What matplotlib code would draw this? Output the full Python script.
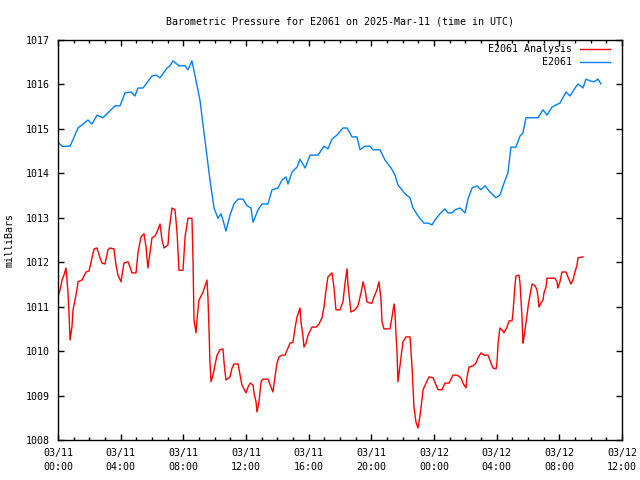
import matplotlib
matplotlib.use("Agg")
import matplotlib.pyplot as plt
from matplotlib.ticker import MultipleLocator

# hours since 2025-03-11 00:00 UTC, pressure in millibars
obs_hours = [0.00, 0.26, 0.77, 1.28, 1.91, 2.17, 2.49, 2.87, 3.19, 3.64, 3.96, 4.28, 4.66,
             4.91, 5.11, 5.43, 6.00, 6.26, 6.51, 6.96, 7.15, 7.34, 7.72, 8.11, 8.30, 8.55,
             8.74, 9.06, 9.38, 9.70, 9.96, 10.21, 10.40, 10.53, 10.72, 10.98, 11.23, 11.49,
             11.81, 12.06, 12.32, 12.45, 12.77, 13.02, 13.40, 13.66, 14.04, 14.30, 14.55,
             14.68, 14.94, 15.26, 15.45, 15.77, 16.09, 16.60, 16.98, 17.23, 17.49, 17.81,
             18.19, 18.45, 18.77, 19.08, 19.28, 19.60, 19.91, 20.11, 20.55, 20.87, 21.26,
             21.51, 21.70, 22.15, 22.47, 22.66, 22.98, 23.36, 23.62, 23.87, 24.06, 24.38,
             24.70, 24.89, 25.15, 25.34, 25.66, 25.98, 26.17, 26.43, 26.74, 27.00, 27.26,
             27.57, 27.96, 28.21, 28.47, 28.72, 28.91, 29.23, 29.49, 29.68, 29.87, 30.13,
             30.64, 30.96, 31.21, 31.53, 31.79, 32.04, 32.43, 32.68, 33.00, 33.19, 33.51,
             33.70, 33.96, 34.21, 34.47, 34.66]
obs_mb = [1014.70, 1014.61, 1014.61, 1015.02, 1015.20, 1015.11, 1015.31, 1015.25, 1015.36,
          1015.52, 1015.52, 1015.81, 1015.83, 1015.74, 1015.92, 1015.92, 1016.19, 1016.21,
          1016.15, 1016.37, 1016.42, 1016.53, 1016.42, 1016.42, 1016.33, 1016.53, 1016.21,
          1015.65, 1014.75, 1013.85, 1013.22, 1012.99, 1013.09, 1012.95, 1012.70, 1013.06,
          1013.31, 1013.42, 1013.42, 1013.27, 1013.22, 1012.90, 1013.18, 1013.31, 1013.31,
          1013.63, 1013.67, 1013.85, 1013.92, 1013.76, 1014.03, 1014.14, 1014.32, 1014.12,
          1014.41, 1014.41, 1014.61, 1014.55, 1014.77, 1014.86, 1015.02, 1015.02, 1014.82,
          1014.82, 1014.53, 1014.61, 1014.61, 1014.53, 1014.53, 1014.30, 1014.12, 1013.96,
          1013.74, 1013.54, 1013.45, 1013.22, 1013.04, 1012.88, 1012.88, 1012.84, 1012.95,
          1013.09, 1013.20, 1013.11, 1013.11, 1013.18, 1013.22, 1013.11, 1013.42, 1013.67,
          1013.72, 1013.63, 1013.72, 1013.58, 1013.45, 1013.51, 1013.78, 1014.01, 1014.59,
          1014.59, 1014.84, 1014.91, 1015.25, 1015.25, 1015.25, 1015.43, 1015.31, 1015.49,
          1015.54, 1015.58, 1015.83, 1015.74, 1015.92, 1016.01, 1015.92, 1016.12, 1016.08,
          1016.06, 1016.12, 1016.01]

ana_hours = [0.00, 0.13, 0.26, 0.38, 0.51, 0.64, 0.70, 0.77, 0.89, 0.96, 1.21, 1.28, 1.53,
             1.79, 1.98, 2.17, 2.30, 2.49, 2.68, 2.81, 3.00, 3.19, 3.32, 3.57, 3.70, 3.83,
             4.02, 4.21, 4.47, 4.60, 4.72, 4.98, 5.11, 5.30, 5.49, 5.62, 5.74, 6.00, 6.19,
             6.38, 6.51, 6.64, 6.77, 7.02, 7.09, 7.28, 7.47, 7.60, 7.72, 7.98, 8.11, 8.30,
             8.55, 8.62, 8.68, 8.81, 8.87, 9.00, 9.26, 9.51, 9.57, 9.64, 9.70, 9.77, 9.89,
             10.02, 10.15, 10.34, 10.53, 10.60, 10.72, 10.98, 11.11, 11.23, 11.49, 11.62,
             11.74, 12.00, 12.13, 12.26, 12.45, 12.51, 12.64, 12.70, 12.83, 12.96, 13.09,
             13.40, 13.60, 13.72, 13.85, 13.98, 14.11, 14.30, 14.49, 14.68, 14.81, 15.00,
             15.13, 15.26, 15.45, 15.51, 15.64, 15.70, 15.83, 15.96, 16.21, 16.47, 16.66,
             16.85, 16.98, 17.11, 17.23, 17.49, 17.62, 17.74, 18.00, 18.19, 18.32, 18.45,
             18.51, 18.70, 18.96, 19.15, 19.34, 19.47, 19.60, 19.72, 19.91, 20.04, 20.17,
             20.36, 20.49, 20.62, 20.68, 20.81, 21.19, 21.32, 21.45, 21.51, 21.57, 21.64,
             21.70, 21.77, 21.89, 22.02, 22.21, 22.47, 22.60, 22.66, 22.72, 22.85, 22.98,
             23.11, 23.23, 23.30, 23.49, 23.68, 23.94, 24.13, 24.26, 24.51, 24.70, 24.96,
             25.21, 25.47, 25.72, 25.85, 26.04, 26.11, 26.23, 26.49, 26.68, 26.81, 27.00,
             27.19, 27.45, 27.64, 27.77, 27.96, 28.02, 28.09, 28.21, 28.34, 28.47, 28.66,
             28.79, 28.98, 29.04, 29.11, 29.17, 29.23, 29.43, 29.49, 29.55, 29.62, 29.68,
             29.74, 29.81, 29.94, 30.00, 30.13, 30.26, 30.45, 30.57, 30.64, 30.70, 30.83,
             30.96, 31.02, 31.15, 31.21, 31.53, 31.72, 31.85, 31.91, 32.04, 32.17, 32.43,
             32.55, 32.74, 32.87, 33.00, 33.13, 33.19, 33.51]
ana_mb = [1011.22, 1011.38, 1011.60, 1011.71, 1011.87, 1011.31, 1010.86, 1010.25, 1010.54,
          1010.93, 1011.38, 1011.56, 1011.60, 1011.78, 1011.80, 1012.10, 1012.30, 1012.32,
          1012.10, 1011.98, 1011.96, 1012.28, 1012.32, 1012.30, 1011.94, 1011.71, 1011.56,
          1011.98, 1012.01, 1011.89, 1011.76, 1011.76, 1012.23, 1012.57, 1012.64, 1012.34,
          1011.87, 1012.55, 1012.59, 1012.73, 1012.86, 1012.50, 1012.32, 1012.39, 1012.73,
          1013.22, 1013.18, 1012.66, 1011.82, 1011.82, 1012.57, 1012.99, 1012.99, 1012.00,
          1010.70, 1010.41, 1010.70, 1011.15, 1011.33, 1011.60, 1011.22, 1010.48, 1009.73,
          1009.31, 1009.46, 1009.69, 1009.91, 1010.03, 1010.05, 1009.73, 1009.35, 1009.42,
          1009.62, 1009.71, 1009.71, 1009.46, 1009.24, 1009.06, 1009.19, 1009.28, 1009.24,
          1009.06, 1008.86, 1008.63, 1008.86, 1009.31, 1009.37, 1009.37, 1009.19, 1009.08,
          1009.42, 1009.73, 1009.87, 1009.91, 1009.91, 1010.07, 1010.18, 1010.20, 1010.52,
          1010.77, 1010.97, 1010.66, 1010.32, 1010.09, 1010.18, 1010.36, 1010.54, 1010.54,
          1010.61, 1010.75, 1010.99, 1011.38, 1011.67, 1011.76, 1011.42, 1010.93, 1010.93,
          1011.11, 1011.53, 1011.85, 1011.49, 1010.88, 1010.93, 1011.02, 1011.31, 1011.56,
          1011.38, 1011.11, 1011.08, 1011.08, 1011.22, 1011.38, 1011.56, 1011.15, 1010.66,
          1010.50, 1010.50, 1010.77, 1011.06, 1010.86, 1010.41, 1009.96, 1009.31, 1009.51,
          1009.87, 1010.21, 1010.32, 1010.32, 1009.64, 1009.17, 1008.74, 1008.40, 1008.27,
          1008.56, 1008.90, 1009.13, 1009.28, 1009.42, 1009.40, 1009.24, 1009.13, 1009.13,
          1009.28, 1009.28, 1009.46, 1009.46, 1009.40, 1009.28, 1009.17, 1009.42, 1009.64,
          1009.67, 1009.73, 1009.85, 1009.96, 1009.91, 1009.91, 1009.73, 1009.62, 1009.60,
          1009.73, 1010.18, 1010.52, 1010.48, 1010.41, 1010.54, 1010.68, 1010.68, 1010.86,
          1011.20, 1011.49, 1011.69, 1011.71, 1011.53, 1011.15, 1010.75, 1010.18, 1010.30,
          1010.48, 1010.81, 1010.99, 1011.26, 1011.51, 1011.47, 1011.38, 1011.22, 1010.99,
          1011.08, 1011.15, 1011.31, 1011.44, 1011.64, 1011.64, 1011.64, 1011.56, 1011.42,
          1011.56, 1011.78, 1011.78, 1011.67, 1011.51, 1011.60, 1011.78, 1011.94, 1012.10,
          1012.12]

tick_hours = [0, 4, 8, 12, 16, 20, 24, 28, 32, 36]
tick_labels = ["03/11\n00:00", "03/11\n04:00", "03/11\n08:00", "03/11\n12:00", "03/11\n16:00",
               "03/11\n20:00", "03/12\n00:00", "03/12\n04:00", "03/12\n08:00", "03/12\n12:00"]

plt.rcParams['font.family'] = ['DejaVu Sans Mono']
plt.rcParams['font.size'] = 7.2

fig = plt.figure(figsize=(6.4, 4.8), dpi=100)
ax = fig.add_axes([58 / 640, 40 / 480, 564 / 640, 400 / 480])

ax.plot(ana_hours, ana_mb, color='#ff0000', linewidth=1.0, label='E2061 Analysis')
ax.plot(obs_hours, obs_mb, color='#0080ff', linewidth=1.0, label='E2061')

ax.set_xlim(0, 36)
ax.set_ylim(1008, 1017)
ax.set_xticks(tick_hours)
ax.set_xticklabels(tick_labels, linespacing=1.5)
ax.xaxis.set_minor_locator(MultipleLocator(1))
ax.set_yticks(range(1008, 1018))
ax.tick_params(which='both', direction='in', top=True, right=True, width=1.0, pad=6)
ax.tick_params(which='major', length=4.0)
ax.tick_params(which='minor', length=2.5)
for s in ax.spines.values():
    s.set_linewidth(1.0)

ax.set_title("Barometric Pressure for E2061 on 2025-Mar-11 (time in UTC)",
             fontsize=7.2, pad=11)
ax.set_ylabel("milliBars", labelpad=8)

leg = ax.legend(loc='upper right', bbox_to_anchor=(0.99, 1.005), frameon=False,
                markerfirst=False, handlelength=3.0, borderaxespad=0.2,
                labelspacing=0.3, handletextpad=0.8)
for t in leg.get_texts():
    t.set_ha('right')

fig.savefig("out.png", dpi=100)
